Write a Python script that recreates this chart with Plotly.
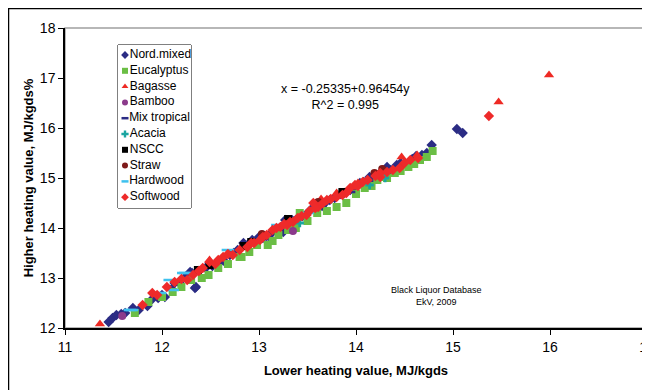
import plotly.graph_objects as go

# ---- data ----
nord_x = [11.45, 11.49, 11.53, 11.62, 11.76, 11.85, 11.96, 12.03, 12.13, 12.24, 12.29, 12.31, 12.34, 12.35,
          12.49, 12.56, 12.65, 12.74, 12.84, 12.93, 13.04, 13.13, 13.20, 13.25, 13.27, 13.32, 13.34, 13.45,
          13.53, 13.62, 13.73, 13.84, 13.94, 14.04, 14.14, 14.20, 14.27, 14.32, 14.42, 14.50, 14.58, 14.73,
          14.78, 15.04, 15.10, 12.10, 12.60, 13.10, 13.60, 14.10,
          11.58, 11.70, 11.90, 12.00, 12.18, 12.38, 12.45, 12.62, 12.70, 12.78, 12.88, 12.98, 13.08, 13.18,
          13.40, 13.48, 13.58, 13.68, 13.78, 13.88, 13.98, 14.08, 14.18, 14.36, 14.46, 14.62, 14.68, 12.52,
          13.00, 13.65]
nord_y = [12.12, 12.20, 12.26, 12.30, 12.36, 12.44, 12.60, 12.62, 12.90, 13.02, 13.12, 13.10, 12.80, 12.82,
          13.30, 13.30, 13.32, 13.50, 13.70, 13.76, 13.80, 13.90, 13.98, 13.92, 14.16, 14.00, 14.16, 14.24,
          14.36, 14.46, 14.56, 14.68, 14.76, 14.90, 15.02, 15.04, 15.06, 15.22, 15.26, 15.30, 15.38, 15.50,
          15.66, 15.98, 15.90, 12.78, 13.32, 13.84, 14.40, 14.88,
          12.28, 12.40, 12.58, 12.66, 12.90, 13.14, 13.20, 13.36, 13.46, 13.56, 13.66, 13.74, 13.84, 13.96,
          14.20, 14.26, 14.38, 14.50, 14.60, 14.70, 14.82, 14.92, 14.98, 15.16, 15.30, 15.44, 15.46, 13.24,
          13.82, 14.44]

euc_x = [11.72, 11.86, 12.11, 12.41, 12.58, 12.80, 12.82, 12.98, 13.09, 13.30, 13.42, 13.60, 13.80,
         13.90, 14.09, 14.22, 14.28, 14.32, 14.40, 14.54, 14.73, 14.79, 12.30, 13.20, 14.00,
         12.00, 12.20, 12.48, 12.68, 12.90, 13.14, 13.38, 13.50, 13.70, 14.16, 14.46, 14.60, 14.66]
euc_y = [12.30, 12.52, 12.72, 13.00, 13.20, 13.42, 13.42, 13.66, 13.66, 13.96, 14.30, 14.30, 14.42,
         14.50, 14.80, 14.96, 15.02, 15.00, 15.10, 15.22, 15.42, 15.54, 12.96, 13.86, 14.68,
         12.62, 12.82, 13.06, 13.28, 13.52, 13.74, 14.00, 14.14, 14.34, 14.84, 15.14, 15.28, 15.36]

bag_x = [11.36, 12.49, 13.64, 13.80, 14.02, 14.47, 14.63, 15.47, 15.99]
bag_y = [12.08, 13.36, 14.58, 14.70, 14.90, 15.42, 15.46, 16.52, 17.06]

bam_x = [11.59, 13.35]
bam_y = [12.24, 13.94]

mix_x = [12.70, 13.40, 13.95]
mix_y = [13.48, 14.18, 14.72]

aca_x = [13.42, 14.14, 14.30]
aca_y = [14.10, 14.86, 15.00]

nscc_x = [12.37, 12.49, 12.84, 12.92, 13.30, 13.86]
nscc_y = [13.16, 13.26, 13.64, 13.72, 14.18, 14.72]

straw_x = [13.03, 13.61, 13.63, 14.19, 14.20, 14.27]
straw_y = [13.88, 14.52, 14.50, 15.10, 15.08, 15.18]

hard_x = [11.32, 11.67, 11.69, 11.98, 12.08, 12.11, 12.22, 12.24, 12.68, 13.19, 13.50]
hard_y = [11.96, 12.36, 12.36, 12.70, 12.96, 12.76, 13.10, 13.10, 13.56, 14.06, 14.30]

soft_x = [11.80, 11.90, 12.05, 12.13, 12.26, 12.32, 12.42, 12.49, 12.63, 12.73, 12.88, 13.01, 13.08,
          13.14, 13.22, 13.29, 13.35, 13.49, 13.56, 13.61, 13.70, 13.80, 13.99, 14.07, 14.25, 14.25,
          14.38, 14.45, 14.56, 14.64, 15.37, 12.55, 12.95, 13.40, 13.90,
          11.95, 12.20, 12.38, 12.58, 12.68, 12.80, 12.92, 13.04, 13.18, 13.32, 13.44, 13.52, 13.66,
          13.74, 13.86, 13.94, 14.02, 14.12, 14.20, 14.32, 14.50, 13.26, 13.58]
soft_y = [12.46, 12.70, 12.82, 12.92, 12.96, 13.06, 13.20, 13.32, 13.42, 13.46, 13.62, 13.76, 13.86,
          13.96, 14.02, 14.06, 14.12, 14.26, 14.50, 14.42, 14.56, 14.62, 14.86, 14.92, 15.02, 15.10,
          15.16, 15.20, 15.36, 15.40, 16.24, 13.28, 13.70, 14.20, 14.70,
          12.66, 12.98, 13.14, 13.36, 13.48, 13.56, 13.70, 13.82, 14.00, 14.12, 14.24, 14.34, 14.50,
          14.58, 14.66, 14.80, 14.84, 14.96, 15.04, 15.12, 15.30, 14.08, 14.40]

x_ticks = [11, 12, 13, 14, 15, 16, 17]
y_ticks = [12, 13, 14, 15, 16, 17, 18]

series = [
    ("Nord.mixed", nord_x, nord_y, "diamond", "#2B2C84", 8),
    ("Eucalyptus", euc_x, euc_y, "square", "#6BBE45", 8),
    ("Bagasse", bag_x, bag_y, "triangle-up", "#EE2A24", 9),
    ("Bamboo", bam_x, bam_y, "circle", "#8B3A8B", 8),
    ("Mix tropical", mix_x, mix_y, "line-ew-open", "#2B2C84", 6),
    ("Acacia", aca_x, aca_y, "cross", "#1AA5A0", 7),
    ("NSCC", nscc_x, nscc_y, "square", "#000000", 8),
    ("Straw", straw_x, straw_y, "circle", "#7E1A1A", 8),
    ("Hardwood", hard_x, hard_y, "line-ew-open", "#3EC1EE", 9),
    ("Softwood", soft_x, soft_y, "diamond", "#EE2A2A", 8),
]

# The page body has an 8px margin, so the figure is sized to fit the window
# and all window-pixel positions below are shifted by OFF.
OFF = 8
W, H = 650 - OFF, 390 - OFF
L, T = 65 - OFF, 28 - OFF
pw, ph = 582, 300
R, B = W - L - pw, H - T - ph

def px_to_paper_x(p):
    return (p - OFF - L) / pw

def px_to_paper_y(p):
    return (T + ph - (p - OFF)) / ph

def marker_style(sym, col, sz):
    if sym.startswith("line"):
        return dict(symbol=sym, size=sz, line=dict(color=col, width=2.5), color=col)
    return dict(symbol=sym, size=sz, color=col, line=dict(width=0))

fig = go.Figure()
for name, xs, ys, sym, col, sz in series:
    fig.add_trace(go.Scatter(x=xs, y=ys, mode="markers", name=name,
                             marker=marker_style(sym, col, sz), showlegend=False))

# ---- hand-built legend (box in pixel space via a secondary axis pair) ----
leg_left, leg_right, leg_top, leg_bottom = 118, 191, 45, 208
leg_row0, leg_step = 55, 15.8
for i, (name, xs, ys, sym, col, sz) in enumerate(series):
    fig.add_trace(go.Scatter(
        x=[125], y=[leg_row0 + i * leg_step], mode="markers+text", text=[name],
        textposition="middle right", textfont=dict(size=12, color="#000"),
        marker=marker_style(sym, col, 5 if sym.startswith("line") else 6),
        xaxis="x2", yaxis="y2", showlegend=False, hoverinfo="skip", cliponaxis=False))

axis_common = dict(ticks="outside", ticklen=5, tickcolor="#000", tickwidth=1,
                   showline=True, linecolor="#000", linewidth=1.5, showgrid=False,
                   zeroline=False, tickfont=dict(size=14), automargin=False,
                   ticklabeloverflow="allow")

fig.update_layout(
    width=W, height=H,
    margin=dict(l=L, r=R, t=T, b=B),
    paper_bgcolor="white", plot_bgcolor="white",
    font=dict(family="Liberation Sans, Arial, sans-serif", color="#000000"),
    showlegend=False,
    xaxis=dict(range=[11, 17], tickvals=x_ticks, domain=[0, 1], anchor="y",
               title=dict(text="<b>Lower heating value, MJ/kgds</b>", font=dict(size=13), standoff=12),
               **axis_common),
    yaxis=dict(range=[12, 18], tickvals=y_ticks, domain=[0, 1], anchor="x",
               title=dict(text="<b>Higher heating value, MJ/kgds%</b>", font=dict(size=13), standoff=3),
               **axis_common),
    xaxis2=dict(domain=[px_to_paper_x(leg_left), px_to_paper_x(leg_right)], range=[leg_left, leg_right],
                anchor="y2", visible=False, fixedrange=True),
    yaxis2=dict(domain=[px_to_paper_y(leg_bottom), px_to_paper_y(leg_top)], range=[leg_bottom, leg_top],
                anchor="x2", visible=False, fixedrange=True),
    shapes=[
        dict(type="rect", xref="paper", yref="paper", x0=0, x1=1, y0=0, y1=1,
             line=dict(color="#A0A0A0", width=1.5), layer="below"),
        dict(type="rect", xref="paper", yref="paper",
             x0=px_to_paper_x(8.5), x1=px_to_paper_x(660), y0=px_to_paper_y(400), y1=px_to_paper_y(8.5),
             line=dict(color="#000000", width=1.5), layer="below"),
        dict(type="rect", xref="paper", yref="paper",
             x0=px_to_paper_x(leg_left), x1=px_to_paper_x(leg_right),
             y0=px_to_paper_y(leg_bottom), y1=px_to_paper_y(leg_top),
             line=dict(color="#000000", width=1), fillcolor="white", layer="below"),
    ],
    annotations=[
        dict(x=px_to_paper_x(345), y=px_to_paper_y(80), xref="paper", yref="paper",
             text="x = -0.25335+0.96454y<br>R^2 = 0.995", showarrow=False,
             font=dict(size=12.5), align="center"),
        dict(x=px_to_paper_x(484), y=px_to_paper_y(309), xref="paper", yref="paper",
             text="Black Liquor Database<br>EkV, 2009", showarrow=False,
             font=dict(size=9), align="center"),
    ],
)

fig.write_html("out.html")
